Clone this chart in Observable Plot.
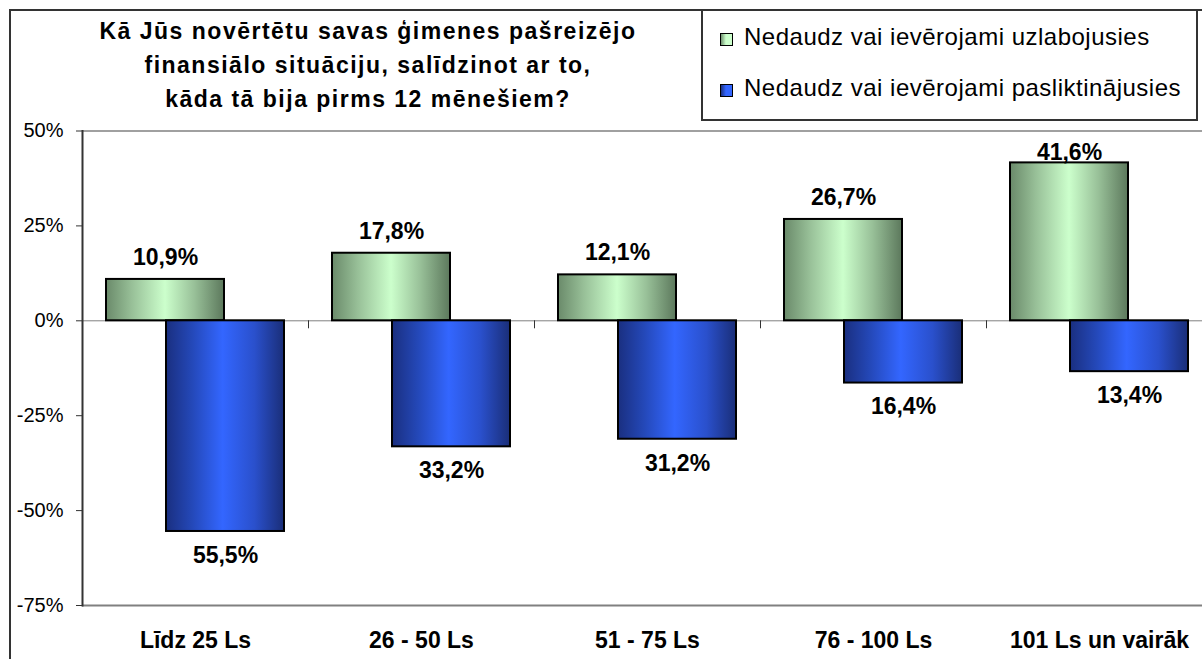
<!DOCTYPE html>
<html>
<head>
<meta charset="utf-8">
<script src="https://cdn.jsdelivr.net/npm/d3@7"></script>
<script src="https://cdn.jsdelivr.net/npm/@observablehq/plot@0.6"></script>
<style>
  html, body { margin: 0; padding: 0; background: #fff; }
  body { position: relative; width: 1202px; height: 659px; overflow: hidden;
         font-family: "Liberation Sans", Arial, sans-serif; color: #000; }
  #frame { position: absolute; left: 9px; top: 9px; width: 1300px; height: 800px;
           border-left: 2px solid #333; border-top: 2px solid #333; pointer-events: none; z-index: 2; }
  #title { position: absolute; left: 0; top: 14px; width: 736px; text-align: center;
           font-weight: bold; font-size: 23px; line-height: 34px; letter-spacing: 1.5px; }
  #legendbox { position: absolute; left: 701px; top: 9px; width: 493px; height: 108px;
               border: 2px solid #333; z-index: 1; }
  .lg-sw { position: absolute; left: 720px; width: 11px; height: 11px; border: 1px solid #000; z-index: 3; }
  .lg-tx { position: absolute; left: 744px; font-size: 24px; line-height: 24px; letter-spacing: 0.5px; white-space: nowrap; z-index: 3; }
  #chart { position: absolute; left: 0; top: 120px; }
</style>
</head>
<body>
<div id="frame"></div>
<div id="title"></div>
<div id="legendbox"></div>
<div id="legend"></div>
<div id="chart"></div>
<script>
// ---- data ----
const titleLines = [
  "Kā Jūs novērtētu savas ģimenes pašreizējo",
  "finansiālo situāciju, salīdzinot ar to,",
  "kāda tā bija pirms 12 mēnešiem?"
];
const categories = ["Līdz 25 Ls", "26 - 50 Ls", "51 - 75 Ls", "76 - 100 Ls", "101 Ls un vairāk"];
const seriesNames = ["Nedaudz vai ievērojami uzlabojusies", "Nedaudz vai ievērojami pasliktinājusies"];
const improved = [10.9, 17.8, 12.1, 26.7, 41.6];
const worsened = [55.5, 33.2, 31.2, 16.4, 13.4];
const yTicks = [-75, -50, -25, 0, 25, 50];

// ---- title ----
document.getElementById("title").innerHTML = titleLines.map(t => `<div>${t}</div>`).join("");

// ---- legend ----
const swatchBg = [
  "linear-gradient(to right, #6f906f 0%, #ccffcc 45%, #ccffcc 100%)",
  "linear-gradient(to right, #1a2f80 0%, #3366ff 45%, #3366ff 100%)"
];
const legendTextTops = [25, 76];
const legendSwTops = [33, 84];
const lg = document.getElementById("legend");
seriesNames.forEach((name, i) => {
  const sw = document.createElement("div");
  sw.className = "lg-sw";
  sw.style.top = legendSwTops[i] + "px";
  sw.style.background = swatchBg[i];
  lg.appendChild(sw);
  const tx = document.createElement("div");
  tx.className = "lg-tx";
  tx.style.top = legendTextTops[i] + "px";
  tx.textContent = name;
  lg.appendChild(tx);
});

// ---- chart ----
const up = categories.map((c, i) => ({cat: c, v: improved[i]}));
const down = categories.map((c, i) => ({cat: c, v: worsened[i]}));
const fmt = v => Math.abs(v).toFixed(1).replace(".", ",") + "%";

const svg = Plot.plot({
  width: 1202,
  height: 539,
  marginTop: 10.5,
  marginBottom: 54,
  marginLeft: 82,
  marginRight: 0,
  style: {background: "none", fontFamily: "'Liberation Sans', Arial, sans-serif", color: "#000"},
  x: {domain: categories, range: [82, 1212], padding: 0, label: null},
  y: {domain: [-75, 50], label: null},
  marks: [
    Plot.ruleY([50], {stroke: "#a0a0a0", strokeWidth: 2}),
    Plot.ruleY([0], {stroke: "#808080", strokeWidth: 1}),
    Plot.ruleX(categories, {x: d => d, y1: 0, y2: 0, dx: -113, insetBottom: -8, stroke: "#333", strokeWidth: 1}),
    Plot.barY(up, {x: "cat", y: "v", insetLeft: 24, insetRight: 84, fill: "url(#gGreen)", stroke: "#000", strokeWidth: 2}),
    Plot.barY(down, {x: "cat", y: d => -d.v, insetLeft: 84, insetRight: 24, fill: "url(#gBlue)", stroke: "#000", strokeWidth: 2}),
    Plot.ruleY([-75], {stroke: "#808080", strokeWidth: 2}),
    Plot.frame({anchor: "left", stroke: "#333", strokeWidth: 2}),
    Plot.axisY({ticks: yTicks, tickFormat: d => d + "%", tickSize: 6, tickPadding: 13, fontSize: 20, stroke: "#333", fill: "#000"}),
    Plot.axisX({tickSize: 0, tickPadding: 26, fontSize: 23, fontWeight: "bold", fill: "#000"}),
    Plot.text(up, {x: "cat", y: d => Math.min(d.v, 38.5), text: d => fmt(d.v), dx: -30, dy: -22, fontSize: 23, fontWeight: "bold", fill: "#000"}),
    Plot.text(down, {x: "cat", y: d => -d.v, text: d => fmt(d.v), dx: 30, dy: 24, fontSize: 23, fontWeight: "bold", fill: "#000"})
  ]
});

const defs = d3.select(svg).insert("defs", ":first-child");
const gradients = [
  {id: "gGreen", stops: [[0, "#6a8a6a"], [0.22, "#98c098"], [0.5, "#ccffcc"], [0.75, "#98c098"], [1, "#5c785c"]]},
  {id: "gBlue", stops: [[0, "#1a2f80"], [0.22, "#2448b8"], [0.48, "#3366ff"], [0.75, "#2a50cc"], [1, "#1a2e78"]]}
];
gradients.forEach(g => {
  const lgd = defs.append("linearGradient").attr("id", g.id).attr("x1", 0).attr("x2", 1).attr("y1", 0).attr("y2", 0);
  g.stops.forEach(([o, c]) => lgd.append("stop").attr("offset", o).attr("stop-color", c));
});

document.getElementById("chart").appendChild(svg);
</script>
</body>
</html>
